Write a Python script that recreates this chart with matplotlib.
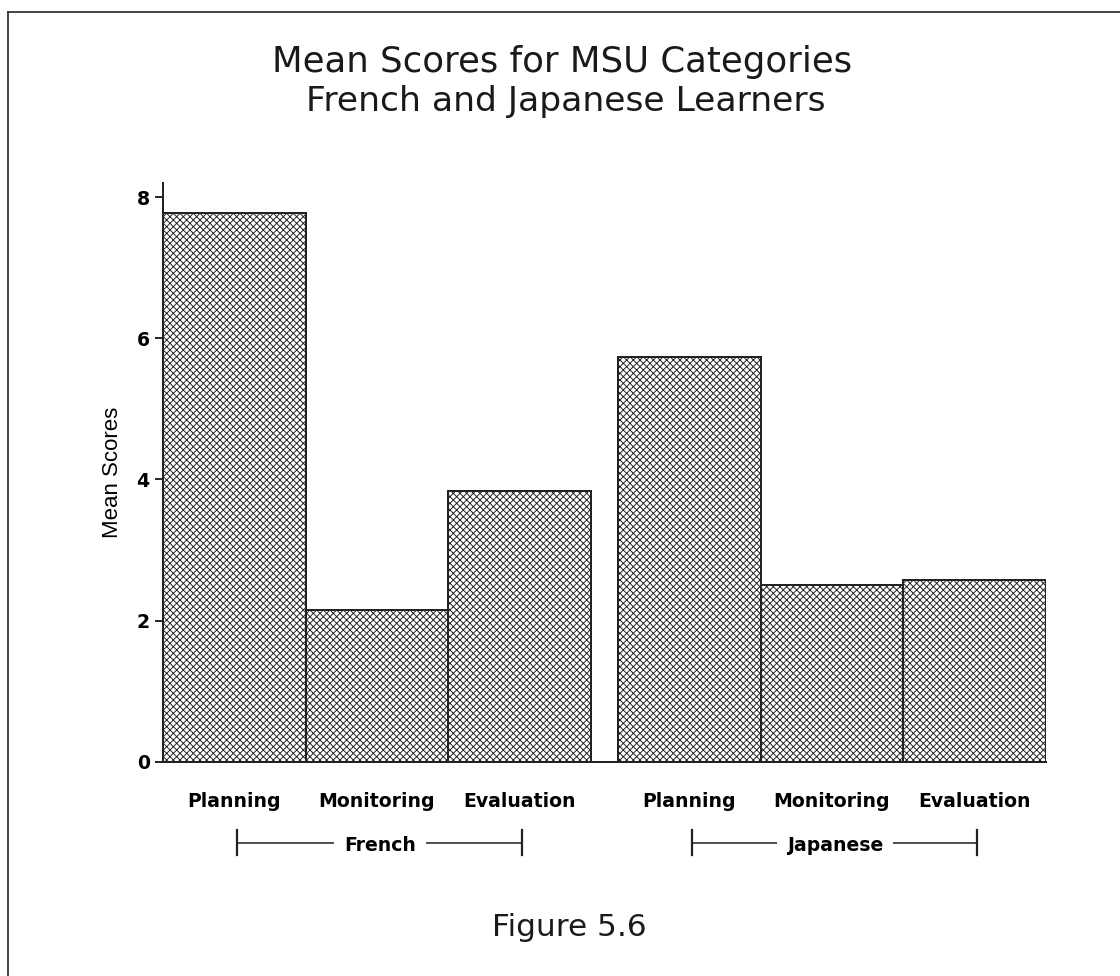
import numpy as np
import matplotlib
matplotlib.use('Agg')
import matplotlib.pyplot as plt
import matplotlib.transforms as mtransforms
from matplotlib.lines import Line2D

# mean scores per MSU category
categories = ['Planning', 'Monitoring', 'Evaluation']
groups = ['French', 'Japanese']
french_scores = [7.78, 2.15, 3.84]
japanese_scores = [5.73, 2.51, 2.57]
yticks = [0, 2, 4, 6, 8]

plt.rcParams['hatch.linewidth'] = 0.85
plt.rcParams['font.family'] = 'DejaVu Sans'

fig = plt.figure(figsize=(14, 12.2), dpi=80)
ax = fig.add_axes([0.1455, 0.2196, 0.7884, 0.5927])

gap = 0.19
n = len(categories)
lefts_fr = np.arange(n)
lefts_jp = np.arange(n) + n + gap

for lefts, vals in [(lefts_fr, french_scores), (lefts_jp, japanese_scores)]:
    ax.bar(lefts, vals, width=1.0, align='edge', color='white',
           edgecolor='#222222', linewidth=1.8, hatch='xxxx')

ax.set_xlim(0, 2 * n + gap)
ax.set_ylim(0, 8.2)

# category labels under each bar
centers = np.concatenate([lefts_fr, lefts_jp]) + 0.5
ax.set_xticks(centers)
ax.set_xticklabels(categories * 2, fontsize=17, fontweight='bold')
ax.tick_params(axis='x', length=0, pad=27)

ax.set_yticks(yticks)
ax.set_yticklabels([str(t) for t in yticks], fontsize=17, fontweight='bold')
ax.tick_params(axis='y', direction='out', length=7, width=1.5, pad=5)
ax.set_ylabel('Mean Scores', fontsize=20, family='Liberation Sans', labelpad=12)

for s in ['top', 'right']:
    ax.spines[s].set_visible(False)
for s in ['left', 'bottom']:
    ax.spines[s].set_linewidth(1.8)
    ax.spines[s].set_color('#222222')

# group brackets below the category labels
trans = mtransforms.blended_transform_factory(ax.transData, fig.transFigure)
y_line = 1 - 843 / 976
y_lo, y_hi = 1 - 855 / 976, 1 - 830 / 976
for lefts, name in [(lefts_fr, groups[0]), (lefts_jp, groups[1])]:
    x0, x1 = lefts[0] + 0.52, lefts[-1] + 0.52
    ax.plot([x0, x1], [y_line, y_line], color='#222222', lw=1.4,
            transform=trans, clip_on=False)
    for xv in (x0, x1):
        ax.plot([xv, xv], [y_lo, y_hi], color='#222222', lw=2.0,
                transform=trans, clip_on=False)
    ax.text((x0 + x1) / 2, y_line - 0.003, name, transform=trans,
            ha='center', va='center', fontsize=17, fontweight='bold',
            bbox=dict(facecolor='white', edgecolor='none', pad=9))

# titles and caption
fig.text(0.502, 1 - 62 / 976, 'Mean Scores for MSU Categories',
         ha='center', va='center', fontsize=32, color='#1a1a1a')
fig.text(0.505, 1 - 101 / 976, 'French and Japanese Learners',
         ha='center', va='center', fontsize=31, color='#1a1a1a')
fig.text(0.508, 1 - 928 / 976, 'Figure 5.6',
         ha='center', va='center', fontsize=28, color='#1a1a1a')

# frame around the figure
fig.add_artist(Line2D([0.007, 1.0], [1 - 12 / 976, 1 - 12 / 976],
                      transform=fig.transFigure, color='#333333', lw=1.6))
fig.add_artist(Line2D([0.0075, 0.0075], [0.0, 1 - 12 / 976],
                      transform=fig.transFigure, color='#333333', lw=1.6))

fig.savefig('out.png', dpi=80, facecolor='white')
